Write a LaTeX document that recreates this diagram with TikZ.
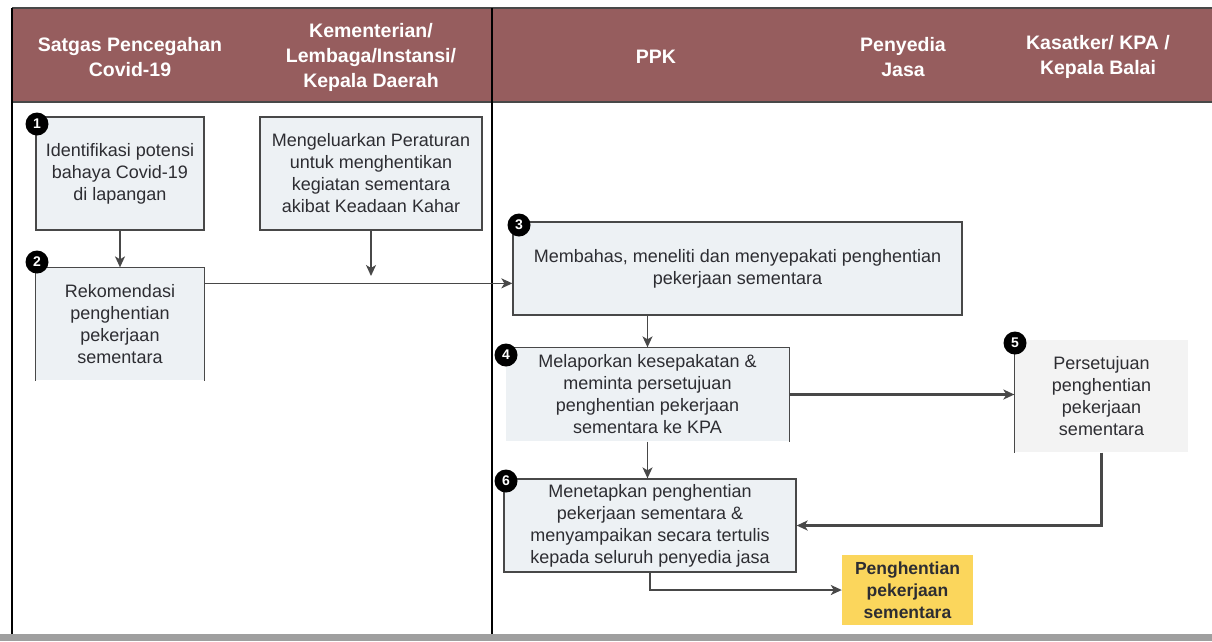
\documentclass[tikz,border=0pt]{standalone}
\usepackage{fontspec}
\setmainfont{Liberation Sans}
\usepackage{tikz}
\usetikzlibrary{arrows.meta,positioning}
\definecolor{kepala}{RGB}{150,93,94}
\definecolor{isi}{RGB}{237,241,244}
\definecolor{isiabu}{RGB}{243,243,243}
\definecolor{garis}{RGB}{72,72,72}
\definecolor{kuning}{RGB}{251,214,92}
\definecolor{teks}{RGB}{45,45,50}
\tikzset{
    %Define standard arrow tip
    >={Stealth[length=11pt,width=10pt,inset=3pt]},
    %Define style for boxes
    kotak/.style={
           rectangle,
           draw=garis, line width=1.3pt,
           fill=isi,
           inner sep=2pt,
           text=teks,
           font=\fontsize{18}{22}\selectfont,
           align=center},
    kotakbuka/.style={
           kotak,
           draw=none},
    hasil/.style={
           rectangle,
           fill=kuning,
           text=teks,
           font=\fontsize{17.5}{22}\selectfont\bfseries,
           align=center},
    judul/.style={
           text=white,
           font=\fontsize{19.5}{25}\selectfont\bfseries,
           align=center},
    nomor/.style={
           circle,
           fill=black,
           inner sep=0pt,
           minimum size=23pt,
           text=white,
           font=\fontsize{14}{14}\selectfont\bfseries},
    % Define arrow style
    panah/.style={
           ->,
           draw=garis,
           line width=1.5pt},
    panahtebal/.style={
           ->,
           draw=garis,
           line width=2.8pt}
}
\begin{document}
\begin{tikzpicture}[x=1pt,y=-1pt]
 \useasboundingbox (0,0) rectangle (1212,641);

 %lanes
 \fill[kepala] (12,8) rectangle (1212,102);
 \draw[garis, line width=1.3pt] (12,8) -- (1212,8);
 \draw[garis, line width=1.3pt] (12,102) -- (1212,102);
 \draw[black, line width=1.3pt] (12,8) -- (12,634);
 \draw[black, line width=1.3pt] (492,8) -- (492,634);
 \fill[gray!75] (0,634) rectangle (1212,641);

 \node[judul] (hSatgas) at (130,57) {Satgas Pencegahan\\Covid-19};
 \node[judul] (hKementerian) at (371,57) {Kementerian/\\Lembaga/Instansi/\\Kepala Daerah};
 \node[judul] (hPPK) at (656,57) {PPK};
 \node[judul] (hPenyedia) at (903,57) {Penyedia\\Jasa};
 \node[judul] (hKPA) at (1098,57) {Kasatker/ KPA /\\Kepala Balai};

 %nodes
 \node[kotak, minimum width=168pt, minimum height=113pt] (identifikasi) at (120,173.5)
    {Identifikasi potensi\\bahaya Covid-19\\di lapangan};
 \node[kotak, minimum width=222pt, minimum height=113pt] (peraturan) at (371,173.5)
    {Mengeluarkan Peraturan\\untuk menghentikan\\kegiatan sementara\\akibat Keadaan Kahar};
 \node[kotakbuka, minimum width=168pt, minimum height=112pt] (rekomendasi) at (120,324)
    {Rekomendasi\\penghentian\\pekerjaan\\sementara};
 \node[kotak, minimum width=449pt, minimum height=93pt] (membahas) at (737.5,268.5)
    {Membahas, meneliti dan menyepakati penghentian\\pekerjaan sementara};
 \node[kotakbuka, minimum width=283pt, minimum height=93pt] (melaporkan) at (647.5,394.5)
    {Melaporkan kesepakatan \&\\meminta persetujuan\\penghentian pekerjaan\\sementara ke KPA};
 \node[kotakbuka, fill=isiabu, minimum width=173pt, minimum height=112pt] (persetujuan) at (1101.5,396)
    {Persetujuan\\penghentian\\pekerjaan\\sementara};
 \node[kotak, minimum width=292pt, minimum height=93pt] (menetapkan) at (650,525.5)
    {Menetapkan penghentian\\pekerjaan sementara \&\\menyampaikan secara tertulis\\kepada seluruh penyedia jasa};
 \node[hasil, minimum width=131pt, minimum height=70pt] (henti) at (907.5,590)
    {Penghentian\\pekerjaan\\sementara};

 %open borders
 \draw[garis, line width=1.3pt] (rekomendasi.south west) -- (rekomendasi.north west)
    -- (rekomendasi.north east) -- (rekomendasi.south east);
 \draw[garis, line width=1.3pt] (melaporkan.north west) -- (melaporkan.north east)
    -- (melaporkan.south east);
 \draw[garis, line width=1.3pt] ([yshift=-12pt]persetujuan.north west) -- (persetujuan.south west);

 %numbers
 \node[nomor] (n1) at (37,124) {1};
 \node[nomor] (n2) at (37,262) {2};
 \node[nomor] (n3) at (519,225) {3};
 \node[nomor] (n4) at (506,355) {4};
 \node[nomor] (n5) at (1015,343) {5};
 \node[nomor] (n6) at (506,481) {6};

 %edges
 \coordinate (kEnd) at (371,276);
 \draw[panah] (identifikasi) -- (rekomendasi);
 \draw[panah] (peraturan) -- (kEnd);
 \draw[panah] ([yshift=-16pt]rekomendasi.north east) -- ([yshift=-16pt]rekomendasi.north east -| membahas.west);
 \draw[panah] (melaporkan.north |- membahas.south) -- (melaporkan.north);
 \draw[panah] (melaporkan.south) -- (melaporkan.south |- menetapkan.north);
 \draw[panahtebal] (melaporkan.east) -- (melaporkan.east -| persetujuan.west);
 \draw[panahtebal] (persetujuan.south) |- (menetapkan.east);
 \draw[panahtebal] (menetapkan.south) |- (henti.west);

\end{tikzpicture}
\end{document}
